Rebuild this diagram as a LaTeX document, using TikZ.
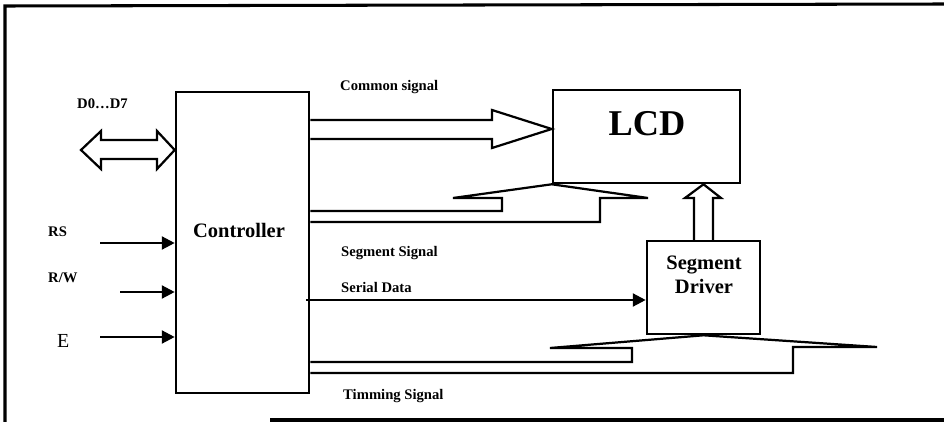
\documentclass[tikz,border=0pt]{standalone}
\usepackage{fontspec}
\setmainfont{Liberation Serif}
\usetikzlibrary{arrows.meta,calc}
\begin{document}
\begin{tikzpicture}[x=0.03cm,y=-0.03cm,
  blk/.style={draw,line width=2.2pt,inner sep=0pt},
  bus/.style={draw,line width=1.9pt,line join=miter},
  sig/.style={line width=2pt,-{Triangle[length=11pt,width=11pt]}},
  lbl/.style={font=\bfseries\fontsize{12.5}{14}\selectfont,inner sep=0pt,anchor=base west},
  title/.style={font=\bfseries\fontsize{#1}{#1}\selectfont,inner sep=0pt,anchor=base},
  frameline/.style={line width=2.6pt}]
\useasboundingbox (0,0) rectangle (944,422);
% outer frame
\draw[frameline] (5,422) -- (5,6) -- (944,4);
\draw[frameline] (270,420) -- (944,420);
% boxes
\node[blk,minimum width=3.99cm,minimum height=9.03cm] (ctrl) at (242.5,242.5) {};
\node[blk,minimum width=5.61cm,minimum height=2.79cm] (lcd) at (646.5,136.5) {};
\node[blk,minimum width=3.39cm,minimum height=2.79cm] (seg) at (703.5,287.5) {};
\node[title=17.5] (ctrltxt) at (239,237) {Controller};
\node[title=31] (lcdtxt) at (647,135) {LCD};
\node[font=\bfseries\fontsize{17.5}{21}\selectfont,align=center,inner sep=0pt] (segtxt) at (704,275) {Segment\\Driver};
% labels
\node[lbl] (d07) at (77,108) {D0\ldots D7};
\node[lbl] (rs) at (48,236) {RS};
\node[lbl] (rw) at (48,282) {R/W};
\node[font=\fontsize{17}{18}\selectfont,inner sep=0pt,anchor=base west] (e) at (57,347) {E};
\node[lbl] (common) at (340,91) {Common signal};
\node[lbl] (segsig) at (341,256) {Segment Signal};
\node[lbl] (serial) at (341,292) {Serial Data};
\node[lbl] (timing) at (343,399) {Timming Signal};
% data bus double arrow
\draw[bus] (81,150) -- (101,131) -- (101,140) -- (157,140) -- (157,131) -- (ctrl.west |- 0,150)
  -- (157,169) -- (157,159) -- (101,159) -- (101,169) -- cycle;
% control inputs
\coordinate (rsin) at (100,243);
\coordinate (rwin) at (120,292);
\coordinate (ein) at (100,337);
\draw[sig] (rsin) -- (ctrl.west |- rsin);
\draw[sig] (rwin) -- (ctrl.west |- rwin);
\draw[sig] (ein) -- (ctrl.west |- ein);
% common signal wide arrow
\draw[bus] (ctrl.east |- 0,120) -- (492,120) -- (492,110) -- ($(lcd.west)+(0,-7.5)$)
  -- (492,148) -- (492,139) -- (ctrl.east |- 0,139);
% bus into LCD bottom
\draw[bus] (ctrl.east |- 0,211) -- (502,211) -- (502,198) -- (453,198) -- (lcd.south west)
  -- (648,198) -- (600,198) -- (600,222) -- (ctrl.east |- 0,222);
% segment driver to LCD
\draw[bus] (694,241) -- (694,198) -- (685,198) -- (lcd.south -| seg.north) -- (721,198)
  -- (713,198) -- (713,241);
% serial data
\draw[sig] (306,300) -- (seg.west |- 0,300);
% timing bus into segment driver bottom
\draw[bus] (ctrl.east |- 0,362) -- (632,362) -- (632,348) -- (550,348) -- (seg.south)
  -- (877,347) -- (793,347) -- (793,373) -- (ctrl.east |- 0,373);
\end{tikzpicture}
\end{document}
